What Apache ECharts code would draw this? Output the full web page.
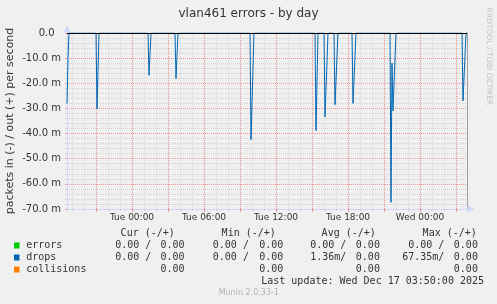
<!DOCTYPE html>
<html><head><meta charset="utf-8">
<script src="https://cdn.jsdelivr.net/npm/echarts@6/dist/echarts.min.js"></script>
<style>html,body{margin:0;padding:0;background:#F0F0F0}#c{width:497px;height:304px}</style>
</head><body><div id="c"></div>
<script>
// ---- data ----
const chartTitle = 'vlan461 errors - by day';
const yAxisName = 'packets in (-) / out (+) per second';
const watermark = 'RRDTOOL / TOBI OETIKER';
// x values: minutes relative to Tue 00:00
const xMin = -325, xMax = 1675;
const hourTicks = [-300,-240,-180,-120,-60,0,60,120,180,240,300,360,420,480,540,600,660,720,780,840,900,960,1020,1080,1140,1200,1260,1320,1380,1440,1500,1560,1620];
const majorTicks = [-180,0,180,360,540,720,900,1080,1260,1440,1620];
const labelTicks = [0,360,720,1080,1440];
const labelTexts = ['Tue 00:00','Tue 06:00','Tue 12:00','Tue 18:00','Wed 00:00'];
const yMin = -70, yMax = 0, yStep = 10;
// drops (in, shown negative) in milli-packets/s
const dropsTimes = [-325,-320,-315, -180,-175,-165, 80,85,90,95, 215,220,230, 590,595,610, 915,920,930, 960,965,980, 1010,1015,1030, 1100,1105,1120, 1290,1295,1300,1305,1320, 1650,1655,1670,1675];
const dropsIn    = [-28,-10,0, 0,-30.2,0, 0,-16.8,-17.3,0, 0,-18.1,0, 0,-42.4,0, 0,-38.8,0, 0,-33.4,0, 0,-28.5,0, 0,-28,0, 0,-67.35,-12,-31,0, 0,-27,0,0];
// legend table
const legendNames = ['errors','drops','collisions'];
const legendColors = ['#00CC00','#0066B3','#FF8000'];
const colHeaders = ['Cur (-/+)','Min (-/+)','Avg (-/+)','Max (-/+)'];
const errorsInStats = ['0.00 ','0.00 ','0.00 ','0.00 '];
const errorsOutStats = ['0.00','0.00','0.00','0.00'];
const dropsInStats = ['0.00 ','0.00 ','1.36m','67.35m'];
const dropsOutStats = ['0.00','0.00','0.00','0.00'];
const collisionsStats = ['0.00','0.00','0.00','0.00'];
const lastUpdate = 'Last update: Wed Dec 17 03:50:00 2025';
const versionText = 'Munin 2.0.33-1';

// ---- layout ----
const leftEnds = [151.3, 248.9, 346.3, 444.3];
const rightEnds = [184.6, 283.3, 379.9, 477.9];
const headEnds = [174.8, 275.8, 375.8, 476.8];
const rowY = [245.7, 257.7, 269.7];
const mono = '10px "DejaVu Sans Mono"';
const txt = '#333';
const red = 'rgba(240,120,120,0.75)';
const gray = '#d4d4d4';

const graphics = [];
function t(x, y, text, align, font, fill, extra) {
  graphics.push(Object.assign({type:'text', x:x, y:y, silent:true,
    style:{text:text, font:font||mono, fill:fill||txt, align:align||'left', verticalAlign:'middle'}}, extra||{}));
}
colHeaders.forEach((h,i)=>t(headEnds[i], 233.3, h, 'right'));
const rowsIn = [errorsInStats, dropsInStats];
const rowsOut = [errorsOutStats, dropsOutStats];
legendNames.forEach((n,r)=>{
  graphics.push({type:'rect', silent:true, shape:{x:14, y:rowY[r]-3.2, width:5.5, height:6}, style:{fill:legendColors[r]}});
  t(26.2, rowY[r], n, 'left');
  for (let c=0;c<4;c++) {
    if (r < 2) {
      t(leftEnds[c], rowY[r], rowsIn[r][c] + '/', 'right');
      t(rightEnds[c], rowY[r], rowsOut[r][c], 'right');
    } else {
      t(rightEnds[c], rowY[r], collisionsStats[c], 'right');
    }
  }
});
t(484, 281.7, lastUpdate, 'right');
t(248.8, 293.3, versionText, 'center', '8px "DejaVu Sans"', '#b4b4b4');
t(488.5, 56.5, watermark, 'center', '7.6px "DejaVu Sans"', '#c4c4c4', {rotation:-Math.PI/2});

function vGrid(values, color) {
  return {type:'line', data:[], xAxisIndex:0, yAxisIndex:0, z:1, silent:true,
    markLine:{silent:true, z:1, symbol:['none','none'], label:{show:false}, animation:false,
      lineStyle:{color:color, type:[1,1], width:1},
      emphasis:{disabled:true},
      data:values.map(v=>({xAxis:v}))}};
}

const chart = echarts.init(document.getElementById('c'), null, {renderer:'canvas'});
const axisBlue = '#CFD6F8';
chart.setOption({
  animation:false,
  backgroundColor:'#F0F0F0',
  textStyle:{fontFamily:'"DejaVu Sans"'},
  title:{text:chartTitle, left:'center', top:8, padding:0,
    textStyle:{fontSize:12, fontWeight:'normal', color:'#333', fontFamily:'"DejaVu Sans"'}},
  grid:{left:67, right:30, top:33, bottom:95, containLabel:false, outerBoundsMode:'none'},
  xAxis:[
    {type:'value', min:xMin, max:xMax, position:'bottom',
     axisLine:{show:true, onZero:false, lineStyle:{color:axisBlue, width:1}, symbol:['none','triangle'], symbolSize:[7,7], symbolOffset:[0,4]},
     axisTick:{show:true, customValues:hourTicks, length:2, lineStyle:{color:gray}},
     axisLabel:{show:false},
     splitLine:{show:false}},
    {type:'value', min:xMin, max:xMax, position:'bottom',
     axisLine:{show:false, onZero:false},
     axisTick:{show:true, customValues:majorTicks, length:3, lineStyle:{color:red}},
     axisLabel:{show:true, customValues:labelTicks, margin:4, fontSize:9, color:txt, fontFamily:'"DejaVu Sans"',
       formatter:v=>labelTexts[labelTicks.indexOf(v)]},
     splitLine:{show:false}}
  ],
  yAxis:[
    {type:'value', min:yMin, max:yMax, interval:yStep, position:'left',
     name:yAxisName, nameLocation:'middle', nameGap:51, nameRotate:90, nameMoveOverlap:false,
     nameTextStyle:{fontSize:11, color:txt, fontFamily:'"DejaVu Sans"'},
     axisLine:{show:true, onZero:false, lineStyle:{color:axisBlue, width:1}, symbol:['none','triangle'], symbolSize:[7,7], symbolOffset:[0,4]},
     axisTick:{show:true, length:2, lineStyle:{color:red}},
     minorTick:{show:true, splitNumber:5, length:2, lineStyle:{color:gray}},
     axisLabel:{margin:6, fontSize:10, color:txt, fontFamily:'"DejaVu Sans"',
       formatter:v=> v===0 ? '0.0\u2007' : v.toFixed(1)+' m'},
     splitLine:{show:true, lineStyle:{color:red, type:[1,1], width:1}},
     minorSplitLine:{show:true, lineStyle:{color:gray, type:[1,1], width:1}}},
    {type:'value', min:yMin, max:yMax, position:'right',
     axisLine:{show:true, onZero:false, lineStyle:{color:'#a0a0a0', width:1}},
     axisTick:{show:false}, axisLabel:{show:false}, splitLine:{show:false}}
  ],
  series:[
    vGrid(hourTicks, gray),
    vGrid(majorTicks, red),
    {type:'line', name:'drops', xAxisIndex:0, yAxisIndex:0,
     data:dropsTimes.map((x,i)=>[x, dropsIn[i]]),
     showSymbol:false, symbol:'none', lineStyle:{color:'#0066B3', width:1}, z:3,
     markLine:{silent:true, z:4, symbol:['none','none'], label:{show:false},
       lineStyle:{color:'#000', type:'solid', width:1}, data:[{yAxis:0}]}}
  ],
  graphic:graphics
});
</script></body></html>
